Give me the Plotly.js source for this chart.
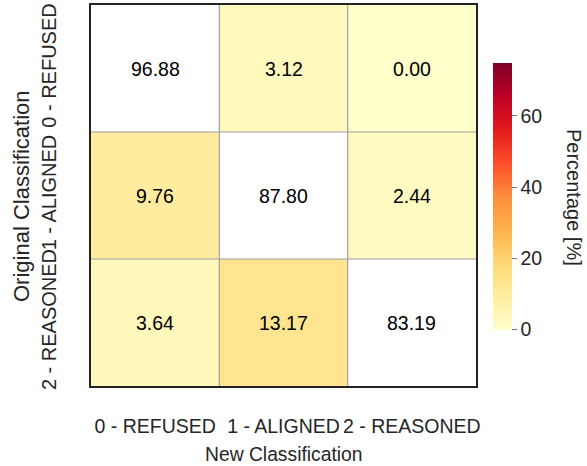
<!DOCTYPE html>
<html>
<head>
<meta charset="utf-8">
<script src="https://cdn.plot.ly/plotly-3.0.1.min.js"></script>
<style>html,body{margin:0;padding:0;background:#fff;}#chart{width:587px;height:466px;}</style>
</head>
<body>
<div id="chart"></div>
<script>
// Categories
const newLabels = ["0 - REFUSED", "1 - ALIGNED", "2 - REASONED"];      // columns (x)
const origLabels = ["0 - REFUSED", "1 - ALIGNED", "2 - REASONED"];     // rows (y)
// Percentages per original class (rows) -> new class (columns)
const rowRefused  = [96.88, 3.12, 0.00];
const rowAligned  = [9.76, 87.80, 2.44];
const rowReasoned = [3.64, 13.17, 83.19];
const colorbarTicks = [0, 20, 40, 60];

const rows = [rowRefused, rowAligned, rowReasoned];
const xIdx = [0, 1, 2];
const yIdx = [0, 1, 2];
// Diagonal cells are masked (drawn white)
const zMasked = rows.map((r, i) => r.map((v, j) => (i === j ? null : v)));

const ylorrd = [
  [0.0, '#ffffcc'], [0.125, '#ffeda0'], [0.25, '#fed976'], [0.375, '#feb24c'],
  [0.5, '#fd8d3c'], [0.625, '#fc4e2a'], [0.75, '#e31a1c'], [0.875, '#bd0026'], [1.0, '#800026']
];

const font = "Liberation Sans, Arial, sans-serif";

const trace = {
  type: 'heatmap',
  x: xIdx, y: yIdx, z: zMasked,
  zmin: 0, zmax: 75,
  colorscale: ylorrd,
  hoverongaps: false,
  colorbar: {
    x: (493 - 91) / 385, xanchor: 'left', xpad: 0,
    y: 1 - (196 - 5) / 381, yanchor: 'middle', ypad: 0,
    len: 267, lenmode: 'pixels',
    thickness: 19, thicknessmode: 'pixels',
    outlinewidth: 0,
    tickvals: colorbarTicks,
    ticks: 'outside', ticklen: 5, tickwidth: 1, tickcolor: '#777',
    tickfont: {family: font, size: 19.5, color: '#262626'}
  }
};

const annotations = [];
rows.forEach((r, i) => r.forEach((v, j) => {
  annotations.push({
    x: j, y: i, xref: 'x', yref: 'y', text: v.toFixed(2), showarrow: false,
    font: {family: font, size: 19.5, color: '#000'}
  });
}));
annotations.push({
  xref: 'paper', yref: 'paper', x: 0.5, y: 1 - (454 - 5) / 381, xanchor: 'center', yanchor: 'middle',
  text: 'New Classification', showarrow: false, font: {family: font, size: 19.3, color: '#262626'}
});
annotations.push({
  xref: 'paper', yref: 'paper', x: (21 - 91) / 385, y: 1 - (196 - 5) / 381, xanchor: 'center', yanchor: 'middle',
  text: 'Original Classification', textangle: -90, showarrow: false, font: {family: font, size: 22, color: '#262626'}
});
annotations.push({
  xref: 'paper', yref: 'paper', x: (574 - 91) / 385, y: 1 - (197 - 5) / 381, xanchor: 'center', yanchor: 'middle',
  text: 'Percentage [%]', textangle: 90, showarrow: false, font: {family: font, size: 20, color: '#262626'}
});

const shapes = [];
[0.5, 1.5].forEach(p => {
  shapes.push({type: 'line', xref: 'x', yref: 'paper', x0: p, x1: p, y0: 0, y1: 1, line: {color: '#a0a0a0', width: 1.2}, layer: 'above'});
  shapes.push({type: 'line', xref: 'paper', yref: 'y', x0: 0, x1: 1, y0: p, y1: p, line: {color: '#a0a0a0', width: 1.2}, layer: 'above'});
});

const layout = {
  width: 587, height: 466,
  margin: {l: 91, r: 111, t: 5, b: 80},
  paper_bgcolor: '#fff', plot_bgcolor: '#fff',
  font: {family: font, color: '#262626'},
  xaxis: {
    range: [-0.5, 2.5], tickvals: xIdx, ticktext: newLabels,
    ticks: '', ticklabelstandoff: 22,
    tickfont: {family: font, size: 19.5, color: '#262626'},
    showgrid: false, zeroline: false,
    showline: true, mirror: true, linecolor: '#222', linewidth: 2
  },
  yaxis: {
    range: [2.5, -0.5], tickvals: yIdx, ticktext: origLabels,
    ticks: '', tickangle: -90, ticklabelstandoff: 25,
    tickfont: {family: font, size: 20, color: '#262626'},
    showgrid: false, zeroline: false,
    showline: true, mirror: true, linecolor: '#222', linewidth: 2
  },
  annotations: annotations,
  shapes: shapes
};

Plotly.newPlot('chart', [trace], layout, {displayModeBar: false, staticPlot: true});
</script>
</body>
</html>
